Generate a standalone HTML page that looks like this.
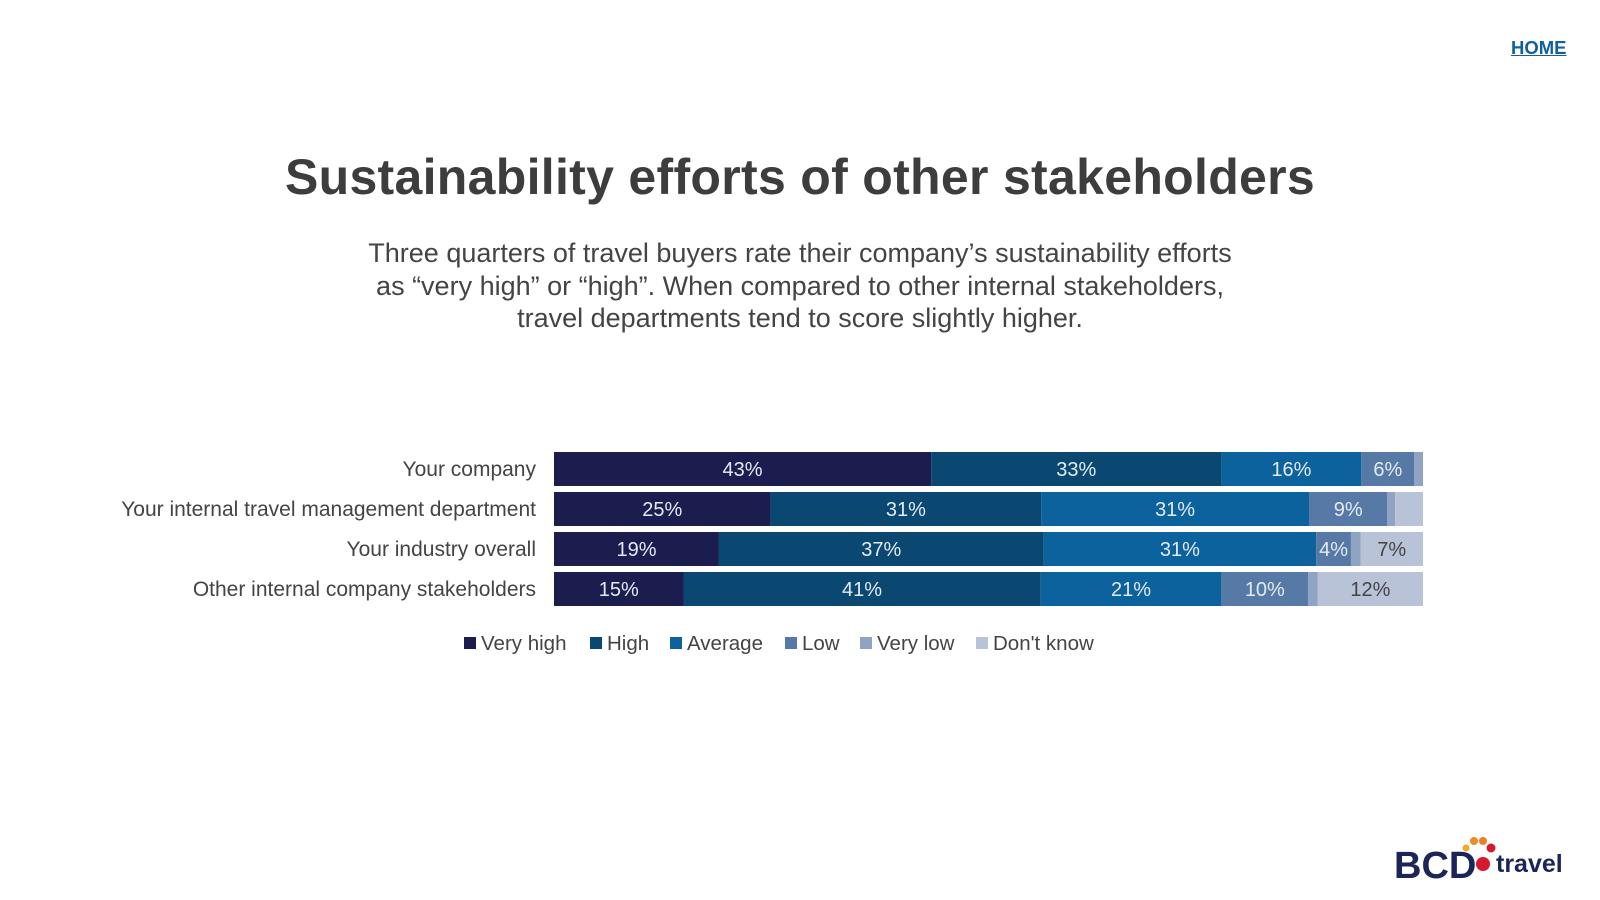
<!DOCTYPE html>
<html><head><meta charset="utf-8"><style>
body{margin:0;width:1600px;height:900px;background:#fff;font-family:"Liberation Sans",sans-serif;position:relative;overflow:hidden}
.home{position:absolute;left:1511px;top:37px;font-size:18.5px;font-weight:bold;color:#1060a0;text-decoration:underline}
h1{position:absolute;left:0;width:1600px;top:148px;margin:0;text-align:center;font-size:50px;font-weight:bold;color:#3d3d3d;letter-spacing:0.3px}
.sub{position:absolute;left:0;width:1600px;top:237px;text-align:center;font-size:27px;line-height:32.5px;color:#444}
</style></head><body>
<div class="home">HOME</div>
<h1>Sustainability efforts of other stakeholders</h1>
<div class="sub">Three quarters of travel buyers rate their company’s sustainability efforts<br>as “very high” or “high”. When compared to other internal stakeholders,<br>travel departments tend to score slightly higher.</div>
<svg id="chart" width="1600" height="900" style="position:absolute;left:0;top:0"></svg>
<svg width="200" height="60" style="position:absolute;left:1390px;top:830px">
<circle cx="76" cy="18" r="3.5" fill="#f6a623"/><circle cx="84" cy="11" r="4" fill="#f08a24"/><circle cx="93" cy="11" r="4" fill="#ef7d22"/><circle cx="101" cy="18" r="4.5" fill="#d7192f"/><circle cx="93" cy="34" r="7" fill="#d7192f"/>
<text x="4" y="48" font-size="38" font-weight="bold" fill="#1b2557" font-family="Liberation Sans">BCD</text>
<text x="106" y="42" font-size="25" font-weight="bold" fill="#1b2557" font-family="Liberation Sans">travel</text>
</svg>
<script>
const categories=["Your company","Your internal travel management department","Your industry overall","Other internal company stakeholders"];
const seriesNames=["Very high","High","Average","Low","Very low","Don't know"];
const veryHigh=[43.4,24.9,19.0,14.9];
const high=[33.4,31.1,37.4,41.1];
const average=[16.1,30.8,31.4,20.8];
const low=[6.1,9.0,4.0,10.0];
const veryLow=[1.0,0.9,1.1,1.1];
const dontKnow=[0,3.2,7.2,12.1];
const series=[veryHigh,high,average,low,veryLow,dontKnow];
const colors=["#1a1d4e","#0a4872","#0c629d","#5779a6","#8fa3c2","#b9c3d7"];
const ns="http://www.w3.org/2000/svg";
const svg=document.getElementById('chart');
const x0=554,x1=1423,rowTop=452,rowStep=40,barH=34;
function xs(v){return (x1-x0)*v/100;}
function yRow(i){return rowTop+i*rowStep;}
function mk(t,a){const e=document.createElementNS(ns,t);for(const k in a)e.setAttribute(k,a[k]);svg.appendChild(e);return e;}
categories.forEach((c,i)=>{
  const t=mk('text',{x:536,y:yRow(i)+barH/2+7,'text-anchor':'end','font-size':21,fill:'#444'});
  t.textContent=c;
  
  
  let tot=0;series.forEach(s=>tot+=s[i]);
  let acc=0;
  series.forEach((s,j)=>{
    const v=s[i]/tot*100;
    const r=mk('rect',{x:x0+xs(acc),y:yRow(i),width:xs(v),height:barH,fill:colors[j]});
    
    
    if(s[i]>=3.5){
      const l=mk('text',{x:x0+xs(acc+v/2),y:yRow(i)+barH/2+7,'text-anchor':'middle','font-size':20,fill:j==5?'#444':'#e4eaf3'});
      l.textContent=Math.round(s[i])+'%';
      
      
    }
    acc+=v;
  });
});
const lx=[464,590,670,785,860,976];
seriesNames.forEach((n,j)=>{
  const r=mk('rect',{x:lx[j],y:637,width:12,height:12,fill:colors[j]});
  
  
  const t=mk('text',{x:lx[j]+17,y:650,'font-size':20.5,fill:'#444'});
  t.textContent=n;
  
  
});
</script>
</body></html>
